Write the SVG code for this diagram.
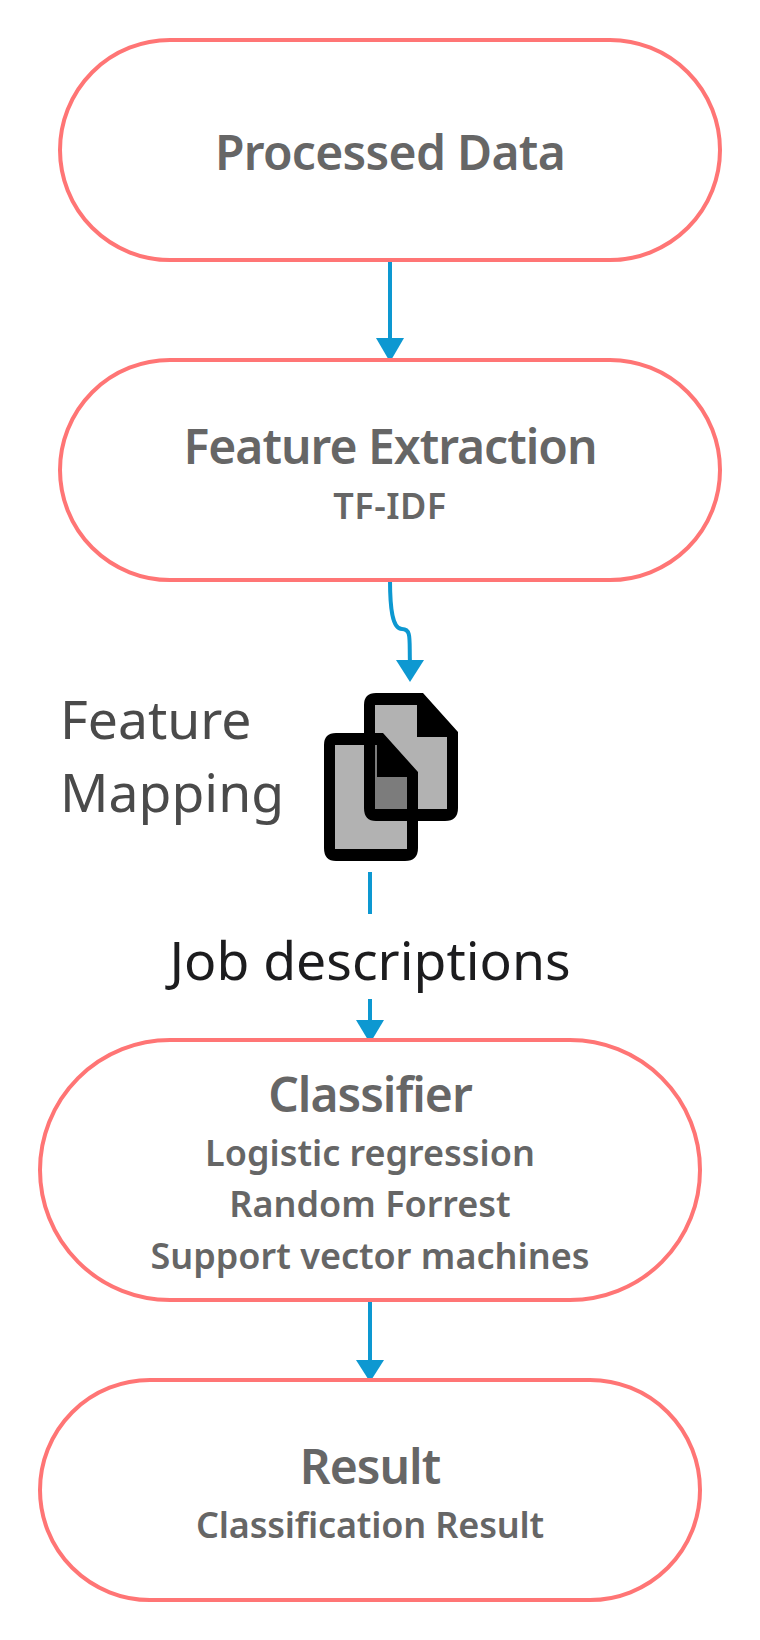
<svg xmlns="http://www.w3.org/2000/svg" width="760" height="1640" viewBox="0 0 760 1640">
<style>
.n{fill:#fff;stroke:#ff7575;stroke-width:4}
.c{fill:none;stroke:#0d98d1;stroke-width:4}
.a{fill:#0d98d1}
text{font-family:"Noto Sans","Open Sans",sans-serif;text-anchor:middle}
.t{font-size:48px;font-weight:600;fill:#666;letter-spacing:-1px}
.s{font-size:36px;font-weight:600;fill:#666}
.l{font-size:53.5px;fill:#4a4a4a;text-anchor:start}
.j{font-size:53.5px;fill:#1c1c1e}
.g{fill:#000;fill-opacity:.3}
</style>
<defs>
<g id="doc">
<path d="M12 0H59L94 39V115Q94 128 81 128H12Q0 128 0 115V12Q0 0 12 0ZM11 12V116H83V44H53V12Z" fill="#000" fill-rule="evenodd"/>
<path class="g" d="M11 12H53V44H83V116H11Z"/>
</g>
</defs>
<g id="connectors">
<path class="c" d="M390 260V340"/><path class="a" d="M376 338H404L390 362Z"/>
<path class="c" d="M390 580C390 606 392 629 402 629C412 629 409 640 410 664"/><path class="a" d="M396 660H424L410 682Z"/>
<path class="c" d="M370 872V1024"/><path class="a" d="M356 1020H384L372 1040H368Z"/>
<path class="c" d="M370 1300V1362"/><path class="a" d="M356 1360H384L370 1382Z"/>
</g>
<g id="processed-data"><rect class="n" x="60" y="40" width="660" height="220" rx="110"/><text class="t" x="390" y="170" style="letter-spacing:-.7px">Processed Data</text></g>
<g id="feature-extraction"><rect class="n" x="60" y="360" width="660" height="220" rx="110"/><text class="t" x="390" y="464">Feature Extraction</text><text class="s" x="390" y="519" style="letter-spacing:.5px">TF-IDF</text></g>
<g id="feature-mapping">
<text class="l" x="60" y="739">Feature</text><text class="l" x="60" y="812">Mapping</text>
<use href="#doc" x="364" y="693"/><use href="#doc" x="324" y="733"/>
</g>
<g id="job-descriptions"><rect x="160" y="914" width="420" height="85" fill="#fff"/><text class="j" x="370" y="980">Job descriptions</text></g>
<g id="classifier"><rect class="n" x="40" y="1040" width="660" height="260" rx="130"/><text class="t" x="370" y="1112">Classifier</text><text class="s" x="370" y="1166">Logistic regression</text><text class="s" x="370" y="1217">Random Forrest</text><text class="s" x="370" y="1269">Support vector machines</text></g>
<g id="result"><rect class="n" x="40" y="1380" width="660" height="220" rx="110"/><text class="t" x="370" y="1484">Result</text><text class="s" x="370" y="1538" style="letter-spacing:-.17px">Classification Result</text></g>
</svg>
